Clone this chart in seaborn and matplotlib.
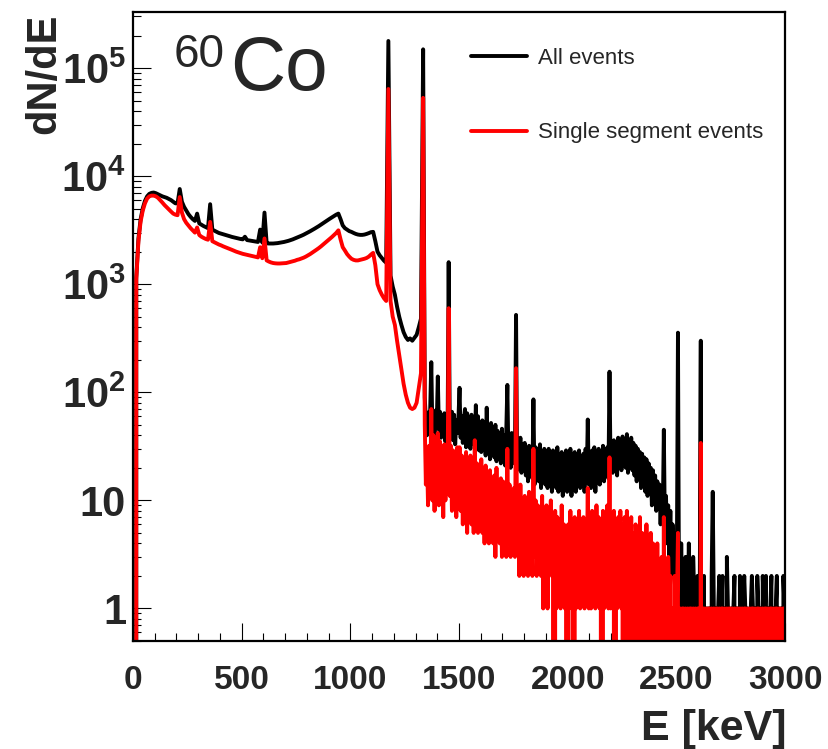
import numpy as np
import matplotlib
matplotlib.use("Agg")
import matplotlib.pyplot as plt
import seaborn as sns
from matplotlib.lines import Line2D
from matplotlib.ticker import FixedLocator, MultipleLocator, LogLocator, NullFormatter

# ---------------- data (counts per keV) ----------------
# 0 - 1340 keV : 10 keV bins
head_centers_keV = np.arange(5, 1340, 10)
all_events_head = [
    0, 1150, 2650, 4000, 5050, 5900, 6500, 6850, 7000, 7050,
    6950, 6800, 6650, 6500, 6400, 6300, 6150, 6000, 5800, 5600,
    5600, 7600, 5800, 5200, 4800, 4450, 4200, 4000, 3850, 4500,
    3650, 3550, 3450, 3370, 3300, 5500, 3200, 3120, 3050, 2980,
    2940, 2900, 2860, 2820, 2780, 2740, 2710, 2680, 2650, 2620,
    2600, 2750, 2560, 2540, 2520, 2500, 2480, 2460, 3200, 2430,
    4600, 2390, 2380, 2380, 2380, 2390, 2400, 2420, 2440, 2460,
    2490, 2520, 2560, 2600, 2650, 2700, 2750, 2810, 2870, 2940,
    3010, 3090, 3170, 3260, 3350, 3450, 3560, 3670, 3790, 3910,
    4030, 4150, 4280, 4400, 4500, 4000, 3500, 3300, 3200, 3100,
    3050, 2980, 2920, 2880, 2860, 2860, 2880, 2920, 2970, 3030,
    3050, 2500, 2000, 1850, 1750, 1650, 1580, 178000, 1200, 950,
    800, 620, 500, 420, 360, 325, 305, 315, 300, 320,
    340, 400, 480, 149000,
]
single_events_head = [
    0, 1100, 2500, 3800, 4800, 5600, 6200, 6500, 6600, 6600,
    6500, 6300, 6000, 5700, 5400, 5150, 4900, 4700, 4500, 4400,
    4350, 6400, 4600, 4000, 3700, 3500, 3300, 3150, 3000, 3350,
    2850, 2750, 2680, 2620, 2580, 3770, 2500, 2440, 2380, 2330,
    2290, 2240, 2200, 2160, 2120, 2080, 2040, 2000, 1970, 1940,
    1910, 1890, 1870, 1850, 1830, 1810, 1790, 1770, 2200, 1740,
    2650, 1660, 1620, 1590, 1570, 1560, 1555, 1555, 1560, 1565,
    1570, 1590, 1610, 1630, 1650, 1680, 1700, 1730, 1760, 1800,
    1850, 1900, 1960, 2020, 2090, 2160, 2240, 2330, 2420, 2520,
    2620, 2730, 2850, 2980, 3150, 2600, 2200, 2050, 1900, 1800,
    1720, 1680, 1660, 1660, 1680, 1700, 1720, 1750, 1800, 1880,
    1950, 1500, 1000, 880, 800, 740, 700, 64000, 700, 500,
    420, 300, 220, 160, 120, 95, 80, 72, 70, 72,
    80, 110, 150, 53000,
]

# 1340 - 3000 keV : 5 keV bins
tail_centers_keV = np.arange(1342.5, 3000, 5)
all_events_tail = [
    90, 55, 40, 65, 48, 70, 190, 45, 62, 38, 68, 50,
    140, 45, 66, 38, 60, 42, 64, 35, 58, 44, 1600, 48, 40, 66, 36, 62, 33, 55, 42, 58,
    110, 38, 60, 34, 56, 70, 31, 64, 40, 57, 30, 62, 36, 58, 32, 76, 34, 60, 29, 52,
    28, 55, 33, 50, 26, 72, 30, 48, 24, 52, 28, 45, 25, 50, 23, 44, 27, 42, 22, 46,
    24, 40, 21, 44, 117, 25, 38, 20, 42, 22, 36, 30, 520, 19, 34, 22, 38, 18, 33, 20,
    34, 17, 30, 15, 32, 18, 29, 16, 86, 14, 31, 17, 28, 15, 33, 13, 27, 16, 30, 14,
    28, 13, 30, 15, 26, 12, 29, 14, 27, 13, 31, 12, 25, 14, 28, 11, 26, 13, 29, 12,
    27, 13, 30, 11, 25, 14, 28, 12, 26, 15, 29, 13, 24, 14, 27, 12, 30, 15, 56, 14,
    26, 13, 29, 15, 31, 12, 27, 16, 30, 14, 28, 17, 32, 15, 29, 18, 31, 16, 155, 19,
    33, 18, 36, 20, 34, 17, 38, 21, 35, 19, 39, 22, 37, 20, 41, 18, 36, 21, 38, 19,
    34, 17, 32, 15, 30, 16, 28, 13, 27, 14, 25, 12, 24, 11, 22, 12, 20, 9, 19, 10,
    17, 8, 15, 9, 14, 6, 13, 7, 45, 5, 11, 4, 9, 3, 8, 2, 6, 3, 5, 1,
    3, 356, 1, 1, 4, 1, 1, 0, 3, 0, 1, 4, 1, 1, 0, 3, 1, 1, 0, 2,
    1, 1, 300, 0, 1, 2, 0, 1, 1, 1, 1, 0, 2, 12, 1, 0, 1, 1, 1, 2,
    1, 1, 2, 0, 1, 0, 3, 1, 1, 1, 0, 1, 1, 2, 0, 1, 1, 0, 2, 1,
    1, 1, 2, 1, 0, 1, 0, 1, 1, 2, 1, 0, 1, 0, 2, 1, 1, 1, 0, 2,
    1, 1, 2, 0, 1, 0, 1, 2, 0, 1, 1, 1, 2, 0, 1, 1, 1, 0, 2, 1,
]
single_events_tail = [
    50, 14, 28, 9, 32, 12, 70, 10, 40, 8, 30, 11,
    42, 9, 35, 12, 28, 7, 33, 10, 26, 14, 600, 11, 32, 8, 29, 10, 25, 7, 31, 9,
    31, 8, 26, 6, 22, 9, 28, 5, 20, 8, 26, 6, 19, 5, 36, 7, 22, 5, 18, 6,
    24, 5, 18, 4, 21, 6, 15, 4, 19, 5, 14, 4, 17, 3, 20, 5, 13, 4, 16, 3,
    15, 4, 12, 3, 30, 4, 14, 3, 11, 5, 13, 3, 167, 4, 12, 2, 14, 3, 10, 2,
    11, 3, 9, 2, 12, 4, 8, 2, 30, 3, 10, 2, 9, 3, 7, 2, 11, 1, 8, 2,
    9, 1, 7, 3, 10, 2, 6, 0, 8, 1, 7, 2, 5, 1, 9, 2, 6, 1, 5, 0,
    6, 1, 8, 2, 5, 0, 7, 1, 6, 2, 8, 1, 5, 2, 7, 1, 6, 2, 13, 1,
    7, 1, 8, 2, 6, 1, 9, 2, 7, 1, 6, 0, 8, 1, 7, 2, 9, 1, 25, 1,
    7, 2, 8, 0, 6, 1, 7, 2, 8, 1, 6, 0, 7, 1, 8, 0, 6, 1, 7, 0,
    5, 0, 6, 1, 4, 0, 7, 0, 5, 1, 4, 0, 6, 0, 3, 1, 5, 0, 4, 0,
    3, 0, 4, 0, 2, 1, 3, 0, 7, 0, 2, 0, 3, 1, 2, 0, 1, 0, 2, 0,
    1, 5, 0, 1, 0, 1, 1, 0, 1, 0, 1, 0, 1, 1, 0, 1, 0, 1, 0, 1,
    1, 0, 34, 0, 1, 1, 0, 1, 0, 1, 1, 0, 1, 0, 1, 0, 1, 1, 0, 1,
    0, 1, 1, 0, 1, 0, 1, 0, 1, 1, 0, 1, 0, 1, 0, 1, 1, 0, 1, 0,
    1, 0, 1, 1, 0, 1, 0, 1, 0, 1, 1, 0, 1, 0, 1, 1, 0, 1, 0, 1,
    0, 1, 1, 0, 1, 0, 1, 1, 0, 1, 0, 1, 1, 0, 1, 0, 1, 0, 1, 1,
]

x_ticks = [0, 500, 1000, 1500, 2000, 2500, 3000]
x_tick_labels = ["0", "500", "1000", "1500", "2000", "2500", "3000"]
y_ticks = [1, 10, 100, 1000, 10000, 100000]
y_tick_labels = ["1", "10", r"$\mathbf{10^{2}}$", r"$\mathbf{10^{3}}$",
                 r"$\mathbf{10^{4}}$", r"$\mathbf{10^{5}}$"]
series_labels = ["All events", "Single segment events"]
series_colors = ["black", "#ff0000"]

energy_keV = np.concatenate([head_centers_keV, tail_centers_keV])
all_events = np.concatenate([all_events_head, all_events_tail])
single_events = np.concatenate([single_events_head, single_events_tail])

# ---------------- style ----------------
sns.set_style("white")
plt.rcParams["font.family"] = ["Liberation Sans", "DejaVu Sans"]
plt.rcParams["mathtext.fontset"] = "custom"
plt.rcParams["mathtext.bf"] = "Liberation Sans:bold"
plt.rcParams["mathtext.rm"] = "Liberation Sans"
plt.rcParams["mathtext.it"] = "Liberation Sans:italic"

W, H = 829, 749
fig = plt.figure(figsize=(W / 100, H / 100), dpi=100)
L, R, T, B = 133, 785, 12, 641
ax = fig.add_axes([L / W, 1 - B / H, (R - L) / W, (B - T) / H])

LW = 2.8
sns.lineplot(x=energy_keV, y=all_events, color=series_colors[0], lw=LW,
             estimator=None, sort=False, ax=ax)
sns.lineplot(x=energy_keV, y=single_events, color=series_colors[1], lw=LW,
             estimator=None, sort=False, ax=ax)

ax.set_yscale("log", nonpositive="clip")
ax.set_xlim(0, 3000)
ax.set_ylim(0.5, 3.3e5)

ax.xaxis.set_major_locator(FixedLocator(x_ticks))
ax.xaxis.set_minor_locator(MultipleLocator(100))
ax.set_xticklabels(x_tick_labels)
ax.yaxis.set_major_locator(FixedLocator(y_ticks))
ax.yaxis.set_minor_locator(LogLocator(base=10, subs=np.arange(2, 10)))
ax.yaxis.set_minor_formatter(NullFormatter())
ax.set_yticklabels(y_tick_labels)

ax.tick_params(axis="both", which="major", direction="in", length=13, width=0.8,
               color="black", bottom=True, left=True, top=False, right=False)
ax.tick_params(axis="both", which="minor", direction="in", length=6, width=0.8,
               color="black", bottom=True, left=True, top=False, right=False)
ax.tick_params(axis="x", which="major", pad=17, labelsize=24)
ax.tick_params(axis="y", which="major", pad=5, labelsize=30)
for lab in ax.get_xticklabels() + ax.get_yticklabels():
    lab.set_fontweight("bold")

for sp in ax.spines.values():
    sp.set_visible(True)
    sp.set_color("black")
    sp.set_linewidth(1.6)

ax.set_xlabel("E [keV]", fontsize=31, fontweight="bold")
ax.xaxis.label.set_ha("right")
ax.xaxis.set_label_coords(1.002, -0.108)
ax.set_ylabel("dN/dE", fontsize=30, fontweight="bold")
ax.yaxis.label.set_ha("right")
ax.yaxis.set_label_coords(-0.104, 0.995)
ax.yaxis.label.set_transform(fig.transFigure)
ax.yaxis.label.set_position((64 / W, 1 - 14 / H))

# isotope label
fig.text(174 / W, 1 - 67 / H, "60", fontsize=33, va="baseline", ha="left")
fig.text(230 / W, 1 - 90 / H, "Co", fontsize=55, va="baseline", ha="left")

handles = [Line2D([0], [0], color=c, lw=LW) for c in series_colors]
ax.legend(handles, series_labels, loc="upper left",
          bbox_to_anchor=(471 / W, 1 - 48 / H), bbox_transform=fig.transFigure,
          frameon=False, fontsize=16, handlelength=2.5, handletextpad=0.5,
          labelspacing=2.4, borderpad=0, borderaxespad=0)

fig.savefig("out.png", dpi=100)
